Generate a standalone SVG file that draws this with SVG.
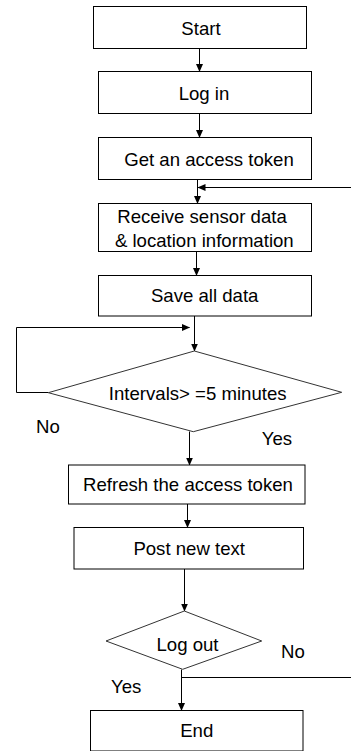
<svg xmlns="http://www.w3.org/2000/svg" width="351" height="751" viewBox="0 0 351 751">
<style>
.box{fill:#fff;stroke:#000;stroke-width:1}
.dia{fill:#fff;stroke:#333;stroke-width:1}
.t{font-family:"Liberation Sans",Arial,sans-serif;font-size:18.6px;fill:#000;text-anchor:middle}
.l{font-family:"Liberation Sans",Arial,sans-serif;font-size:18.6px;fill:#000}
.c{fill:none;stroke:#000;stroke-width:1}
</style>
<defs>
<marker id="ah" markerUnits="userSpaceOnUse" markerWidth="8" markerHeight="8" refX="7.5" refY="3.5" orient="auto">
<path d="M0,0 L8,3.5 L0,7 z" fill="#000"/>
</marker>
</defs>
<rect width="351" height="751" fill="#fff"/>
<g id="connectors">
<line class="c" x1="199.5" y1="48.5" x2="199.5" y2="71.5" marker-end="url(#ah)"/>
<line class="c" x1="199.5" y1="113.5" x2="199.5" y2="137.5" marker-end="url(#ah)"/>
<line class="c" x1="197.5" y1="179.5" x2="197.5" y2="203.5" marker-end="url(#ah)"/>
<line class="c" x1="351" y1="187.5" x2="198" y2="187.5" marker-end="url(#ah)"/>
<line class="c" x1="196.5" y1="251.5" x2="196.5" y2="275.5" marker-end="url(#ah)"/>
<line class="c" x1="194.5" y1="316" x2="194.5" y2="351" marker-end="url(#ah)"/>
<path class="c" d="M48.3,392.5 H16.5 V327.5 H189.5" marker-end="url(#ah)"/>
<line class="c" x1="189.5" y1="431.5" x2="189.5" y2="465" marker-end="url(#ah)"/>
<line class="c" x1="187.5" y1="504" x2="187.5" y2="527.5" marker-end="url(#ah)"/>
<line class="c" x1="184.5" y1="569" x2="184.5" y2="611" marker-end="url(#ah)"/>
<line class="c" x1="181.5" y1="669.5" x2="181.5" y2="710.5" marker-end="url(#ah)"/>
<line class="c" x1="181.5" y1="677.5" x2="351" y2="677.5"/>
</g>
<g id="start"><rect class="box" x="93.5" y="6.5" width="213" height="42"/><text class="t" x="201" y="34.5">Start</text></g>
<g id="login"><rect class="box" x="98.5" y="71.5" width="213" height="42"/><text class="t" x="204" y="100">Log in</text></g>
<g id="token"><rect class="box" x="98.5" y="137.5" width="213" height="42"/><text class="t" x="209" y="165.7">Get an access token</text></g>
<g id="receive"><rect class="box" x="98.5" y="203.5" width="213" height="48"/><text class="t" x="202" y="223.3">Receive sensor data</text><text class="t" x="204.3" y="246.7">&amp; location information</text></g>
<g id="save"><rect class="box" x="98.5" y="275.5" width="213" height="40.5"/><text class="t" x="204.7" y="302.3">Save all data</text></g>
<g id="interval"><polygon class="dia" points="194.3,351 341.7,392.3 193.3,431.7 48.3,392.7"/><text class="t" x="197.7" y="400">Intervals&gt; =5 minutes</text></g>
<text class="l" x="36" y="432.5">No</text>
<text class="l" x="261.7" y="445">Yes</text>
<g id="refresh"><rect class="box" x="68.5" y="465" width="236.5" height="39"/><text class="t" x="188" y="490.7">Refresh the access token</text></g>
<g id="post"><rect class="box" x="74" y="527.5" width="229.5" height="41.5"/><text class="t" x="189.2" y="555">Post new text</text></g>
<g id="logout"><polygon class="dia" points="184.3,611 261.7,641 182.7,669.3 106,641"/><text class="t" x="187.5" y="650.7">Log out</text></g>
<text class="l" x="281" y="658.3">No</text>
<text class="l" x="111" y="693.3">Yes</text>
<g id="end"><rect class="box" x="90.5" y="710.5" width="212.5" height="40.5"/><text class="t" x="196.7" y="736.7">End</text></g>
</svg>
